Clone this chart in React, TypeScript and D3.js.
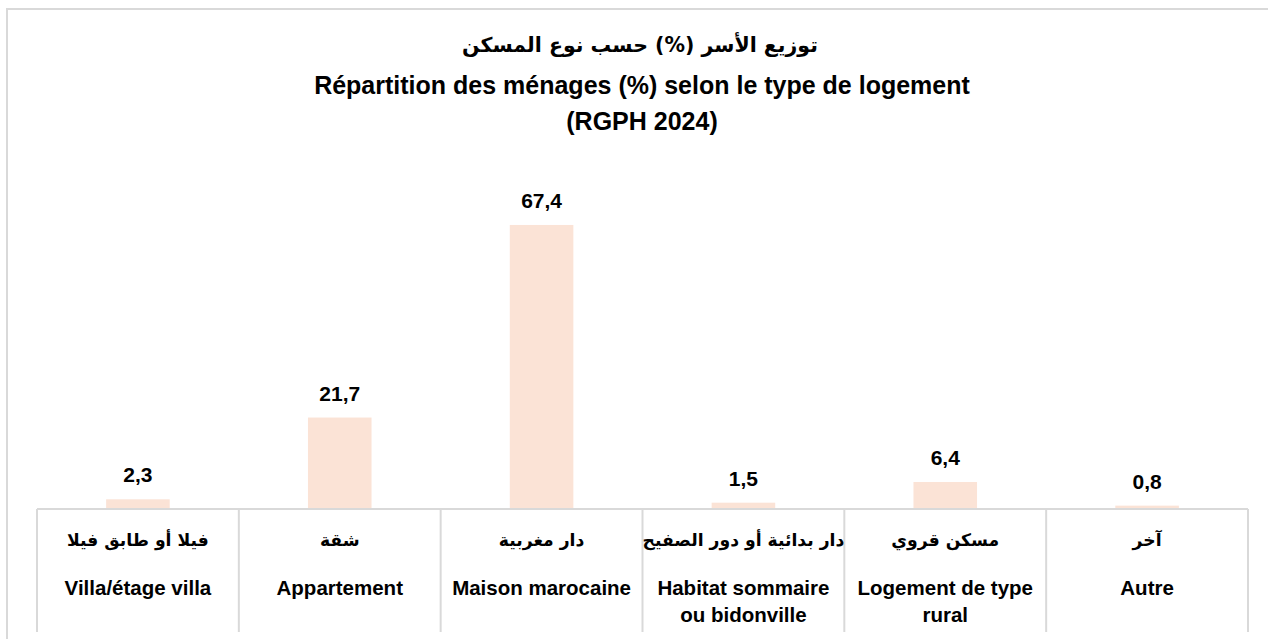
import { useEffect, useRef } from 'react'
import * as d3 from 'd3'

// categories (Arabic label, French label lines)
const labelsAr = [
  'فيلا أو طابق فيلا',
  'شقة',
  'دار مغربية',
  'دار بدائية أو دور الصفيح',
  'مسكن قروي',
  'آخر',
]
const labelsFr = [
  ['Villa/étage villa'],
  ['Appartement'],
  ['Maison marocaine'],
  ['Habitat sommaire', 'ou bidonville'],
  ['Logement de type', 'rural'],
  ['Autre'],
]
const values = [2.3, 21.7, 67.4, 1.5, 6.4, 0.8]

const titleAr = 'توزيع الأسر (%) حسب نوع المسكن'
const titleFr = 'Répartition des ménages (%) selon le type de logement'
const titleYear = '(RGPH 2024)'

const WIDTH = 1268
const HEIGHT = 639
const FONT = "'Liberation Sans', 'DejaVu Sans', sans-serif"
const FONT_AR = "'DejaVu Sans', sans-serif"
const BAR_COLOR = '#fbe3d6'
const LINE_COLOR = '#d9d9d9'

export default function App() {
  const svgRef = useRef<SVGSVGElement | null>(null)

  useEffect(() => {
    if (!svgRef.current) return
    const svg = d3.select(svgRef.current)
    svg.selectAll('*').remove()

    const axisY = 509
    const x = d3.scaleBand<number>()
      .domain(values.map((d, i) => i))
      .range([37, 1248])
      .padding(0)
    const y = d3.scaleLinear().domain([0, 70]).range([axisY, 214])
    const barW = x.bandwidth() * 0.315

    const fr = d3.formatLocale({ decimal: ',', thousands: ' ', grouping: [3], currency: ['', ''] })
    const fmt = fr.format('.1f')

    // outer chart border (right / bottom run past the picture)
    svg.append('rect')
      .attr('x', 7).attr('y', 9)
      .attr('width', 1300).attr('height', 700)
      .attr('fill', '#fff')
      .attr('stroke', LINE_COLOR)
      .attr('stroke-width', 2)

    // titles
    svg.append('text')
      .attr('x', 640).attr('y', 52)
      .attr('text-anchor', 'middle')
      .attr('direction', 'rtl')
      .attr('font-family', FONT_AR)
      .attr('font-weight', 'bold')
      .attr('font-size', 20.5)
      .text(titleAr)
    svg.append('text')
      .attr('x', 642).attr('y', 94)
      .attr('text-anchor', 'middle')
      .attr('font-family', FONT)
      .attr('font-weight', 'bold')
      .attr('font-size', 25)
      .text(titleFr)
    svg.append('text')
      .attr('x', 642).attr('y', 130)
      .attr('text-anchor', 'middle')
      .attr('font-family', FONT)
      .attr('font-weight', 'bold')
      .attr('font-size', 25)
      .text(titleYear)

    // bars
    svg.selectAll('.bar')
      .data(values)
      .enter()
      .append('rect')
      .attr('class', 'bar')
      .attr('x', (d, i) => (x(i) as number) + x.bandwidth() / 2 - barW / 2)
      .attr('y', d => y(d))
      .attr('width', barW)
      .attr('height', d => y(0) - y(d))
      .attr('fill', BAR_COLOR)

    // value labels
    svg.selectAll('.value-label')
      .data(values)
      .enter()
      .append('text')
      .attr('class', 'value-label')
      .attr('x', (d, i) => (x(i) as number) + x.bandwidth() / 2)
      .attr('y', d => y(d) - 17)
      .attr('text-anchor', 'middle')
      .attr('font-family', FONT)
      .attr('font-weight', 'bold')
      .attr('font-size', 21)
      .attr('fill', '#000')
      .text(d => fmt(d))

    // category table: axis line + separators
    svg.append('line')
      .attr('x1', 37).attr('x2', 1248)
      .attr('y1', axisY).attr('y2', axisY)
      .attr('stroke', LINE_COLOR).attr('stroke-width', 2)

    const bounds = values.map((d, i) => x(i) as number).concat([x.range()[1]])
    svg.selectAll('.sep')
      .data(bounds)
      .enter()
      .append('line')
      .attr('class', 'sep')
      .attr('x1', d => d).attr('x2', d => d)
      .attr('y1', axisY).attr('y2', 632)
      .attr('stroke', LINE_COLOR).attr('stroke-width', 2)

    const cats = svg.selectAll('.cat')
      .data(values)
      .enter()
      .append('g')
      .attr('class', 'cat')
      .attr('transform', (d, i) => `translate(${(x(i) as number) + x.bandwidth() / 2},0)`)

    cats.append('text')
      .attr('y', 546)
      .attr('text-anchor', 'middle')
      .attr('direction', 'rtl')
      .attr('font-family', FONT_AR)
      .attr('font-weight', 'bold')
      .attr('font-size', 17.2)
      .text((d, i) => labelsAr[i])

    cats.each(function (d, i) {
      const g = d3.select(this)
      labelsFr[i].forEach((line, j) => {
        g.append('text')
          .attr('y', 595 + j * 27)
          .attr('text-anchor', 'middle')
          .attr('font-family', FONT)
          .attr('font-weight', 'bold')
          .attr('font-size', 20.5)
          .text(line)
      })
    })
  }, [])

  return (
    <svg
      ref={svgRef}
      width={WIDTH}
      height={HEIGHT}
      style={{ position: 'absolute', left: 0, top: 0, background: '#fff' }}
    />
  )
}
